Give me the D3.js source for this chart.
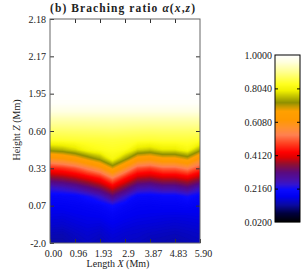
<!DOCTYPE html>
<html><head><meta charset="utf-8">
<script src="https://cdn.jsdelivr.net/npm/d3@7"></script>
<style>
body{margin:0;background:#fff}
text{font-family:"Liberation Serif",serif;fill:#222}
</style></head><body><svg width="306" height="278"></svg>
<script>
const xLabels = ['0.00','0.96','1.93','2.9','3.87','4.83','5.90']
const zLabels = ['-2.0','0.07','0.33','0.60','1.95','2.17','2.18']
const cbLabels = ['0.0200','0.2160','0.4120','0.6080','0.8040','1.0000']
const xCols = [0,0.49,0.98,1.48,1.97,2.46,2.95,3.44,3.93,4.43,4.92,5.41,5.90]
// alpha(x,z), rows from bottom to top, one row every quarter of a z tick
const alpha = [
  [0.122,0.124,0.134,0.142,0.134,0.148,0.142,0.140,0.132,0.130,0.127,0.132,0.137],
  [0.134,0.132,0.142,0.150,0.144,0.157,0.150,0.147,0.142,0.139,0.136,0.140,0.144],
  [0.150,0.148,0.155,0.160,0.158,0.169,0.162,0.157,0.155,0.152,0.149,0.152,0.155],
  [0.163,0.161,0.166,0.170,0.173,0.184,0.173,0.168,0.166,0.164,0.163,0.164,0.166],
  [0.174,0.175,0.178,0.183,0.190,0.213,0.190,0.178,0.176,0.179,0.179,0.183,0.174],
  [0.190,0.193,0.197,0.217,0.247,0.308,0.247,0.197,0.195,0.199,0.199,0.217,0.195],
  [0.250,0.260,0.280,0.312,0.348,0.410,0.348,0.280,0.270,0.290,0.290,0.312,0.262],
  [0.352,0.363,0.383,0.413,0.448,0.533,0.448,0.383,0.373,0.393,0.393,0.413,0.372],
  [0.453,0.465,0.491,0.539,0.587,0.683,0.587,0.491,0.476,0.507,0.507,0.539,0.480],
  [0.592,0.608,0.640,0.688,0.733,0.808,0.733,0.640,0.624,0.656,0.656,0.688,0.600],
  [0.736,0.749,0.774,0.811,0.825,0.832,0.825,0.774,0.761,0.786,0.786,0.811,0.736],
  [0.836,0.839,0.842,0.844,0.845,0.847,0.845,0.842,0.840,0.843,0.843,0.844,0.836],
  [0.875,0.875,0.876,0.877,0.878,0.880,0.878,0.876,0.875,0.876,0.876,0.876,0.875],
  [0.913,0.913,0.913,0.914,0.915,0.916,0.915,0.914,0.913,0.913,0.913,0.913,0.913],
  [0.958,0.958,0.958,0.958,0.958,0.958,0.958,0.958,0.958,0.958,0.958,0.958,0.958],
  [0.994,0.994,0.994,0.994,0.994,0.994,0.994,0.994,0.994,0.994,0.994,0.994,0.994],
  [1,1,1,1,1,1,1,1,1,1,1,1,1],
  [1,1,1,1,1,1,1,1,1,1,1,1,1],
  [1,1,1,1,1,1,1,1,1,1,1,1,1],
  [1,1,1,1,1,1,1,1,1,1,1,1,1],
  [1,1,1,1,1,1,1,1,1,1,1,1,1],
  [1,1,1,1,1,1,1,1,1,1,1,1,1],
  [1,1,1,1,1,1,1,1,1,1,1,1,1],
  [1,1,1,1,1,1,1,1,1,1,1,1,1],
  [1,1,1,1,1,1,1,1,1,1,1,1,1]
]
const cStops  = [0.02,0.07,0.12,0.17,0.21,0.24,0.27,0.31,0.36,0.40,0.43,0.48,0.53,0.57,0.62,0.67,0.70,0.72,0.75,0.79,0.83,0.90,0.96,1.0]
const cColors = ['#000000','#00003c','#0a0aa0','#0000f0','#0a0aff','#3414d0','#4a10a8','#5a0a80','#901030','#e00000','#ff0000','#ff4020','#ff8050','#ff9030','#ff9900','#ffa000','#c09a00','#8f8f00','#b8b800','#f0f000','#ffff20','#ffff90','#ffffe0','#ffffff']

const svg = d3.select('svg')
const color = d3.scaleLinear().domain(cStops).range(cColors).interpolate(d3.interpolateRgb)

const L = 50, R = 200, T = 19, B = 243
const xTick = d3.scaleLinear().domain([0,6]).range([L,R])
const zTick = d3.scaleLinear().domain([0,6]).range([B,T])
const nx = xCols.length, ny = alpha.length
const x = d3.scaleLinear().domain([0,5.9]).range([L,R])
// contour grid coords -> pixels (grid point i sits at i+0.5)
const gx = d3.scaleLinear().domain([0.5, nx-0.5]).range([x(xCols[0]), x(xCols[nx-1])])
const gy = d3.scaleLinear().domain([0.5, ny-0.5]).range([zTick(0), zTick((ny-1)*0.25)])

svg.append('clipPath').attr('id','clip')
  .append('rect').attr('x',L).attr('y',T).attr('width',R-L).attr('height',B-T)

const values = alpha.flat()
const thr = d3.range(0.12, 1.0001, 0.004)
const contours = d3.contours().size([nx, ny]).thresholds(thr)(values)
const path = d3.geoPath(d3.geoTransform({point(px,py){ this.stream.point(gx(px), gy(py)) }}))

const g = svg.append('g').attr('clip-path','url(#clip)')
g.append('rect').attr('x',L).attr('y',T).attr('width',R-L).attr('height',B-T).attr('fill',color(0.12))
g.selectAll('path').data(contours).enter().append('path')
  .attr('d', path)
  .attr('fill', d => color(d.value + 0.002))

// axes with inward ticks
const fmtX = i => xLabels[i], fmtZ = i => zLabels[i]
const axB = svg.append('g').attr('transform',`translate(0,${B})`)
  .call(d3.axisBottom(xTick).tickValues(d3.range(7)).tickFormat(fmtX).tickSizeInner(-4).tickSizeOuter(0).tickPadding(7))
axB.selectAll('text').attr('x',3)
const axT = svg.append('g').attr('transform',`translate(0,${T})`)
  .call(d3.axisTop(xTick).tickValues(d3.range(1,6)).tickFormat('').tickSizeInner(-4).tickSizeOuter(0))
const axL = svg.append('g').attr('transform',`translate(${L},0)`)
  .call(d3.axisLeft(zTick).tickValues(d3.range(7)).tickFormat(fmtZ).tickSizeInner(-4).tickSizeOuter(0).tickPadding(4))
const axR = svg.append('g').attr('transform',`translate(${R},0)`)
  .call(d3.axisRight(zTick).tickValues(d3.range(1,6)).tickFormat('').tickSizeInner(-4).tickSizeOuter(0))
;[axB,axT,axL,axR].forEach(a => {
  a.select('.domain').remove()
  a.selectAll('line').attr('stroke','#333')
  a.selectAll('text').style('font-family','"Liberation Serif",serif').style('font-size','10px').attr('fill','#222')
})
svg.append('rect').attr('x',L).attr('y',T).attr('width',R-L).attr('height',B-T)
  .attr('fill','none').attr('stroke','#666').attr('stroke-width',1)

// titles
const title = svg.append('text').attr('x',L).attr('y',12).style('font-size','11.5px').style('font-weight','bold')
  .attr('textLength',145).attr('lengthAdjust','spacing')
title.append('tspan').text('(b) Braching ratio ')
title.append('tspan').style('font-style','italic').text('α')
title.append('tspan').text('(')
title.append('tspan').style('font-style','italic').text('x')
title.append('tspan').text(',')
title.append('tspan').style('font-style','italic').text('z')
title.append('tspan').text(')')

const xt = svg.append('text').attr('x',118).attr('y',267).attr('text-anchor','middle').style('font-size','10px')
xt.append('tspan').text('Length ')
xt.append('tspan').style('font-style','italic').text('X')
xt.append('tspan').text(' (Mm)')

const yt = svg.append('text').attr('transform','translate(20,130) rotate(-90)').attr('text-anchor','middle').style('font-size','10px')
yt.append('tspan').text('Height ')
yt.append('tspan').style('font-style','italic').text('Z')
yt.append('tspan').text(' (Mm)')

// colour bar
const cbL = 275, cbR = 300, cbT = 55, cbB = 222
const cb = d3.scaleLinear().domain([0.02,1]).range([cbB,cbT])
svg.append('g').selectAll('rect').data(d3.range(cbT, cbB)).enter().append('rect')
  .attr('x',cbL).attr('y',d => d).attr('width',cbR-cbL).attr('height',1.2)
  .attr('fill',d => color(cb.invert(d+0.5)))
const cbTicks = cbLabels.map(Number)
const cbAx = svg.append('g').attr('transform',`translate(${cbL},0)`)
  .call(d3.axisLeft(cb).tickValues(cbTicks).tickFormat((d,i) => cbLabels[i]).tickSizeInner(-3).tickSizeOuter(0).tickPadding(3))
const cbAxR = svg.append('g').attr('transform',`translate(${cbR},0)`)
  .call(d3.axisRight(cb).tickValues(cbTicks.slice(1,5)).tickFormat('').tickSizeInner(-3).tickSizeOuter(0))
;[cbAx,cbAxR].forEach(a => {
  a.select('.domain').remove()
  a.selectAll('line').attr('stroke','#000')
  a.selectAll('text').style('font-family','"Liberation Serif",serif').style('font-size','10px').attr('fill','#222')
})
cbAx.selectAll('.tick').filter((d,i) => i==0 || i==5).select('line').remove()
svg.append('rect').attr('x',cbL).attr('y',cbT).attr('width',cbR-cbL).attr('height',cbB-cbT)
  .attr('fill','none').attr('stroke','#000').attr('stroke-width',1)
</script></body></html>
